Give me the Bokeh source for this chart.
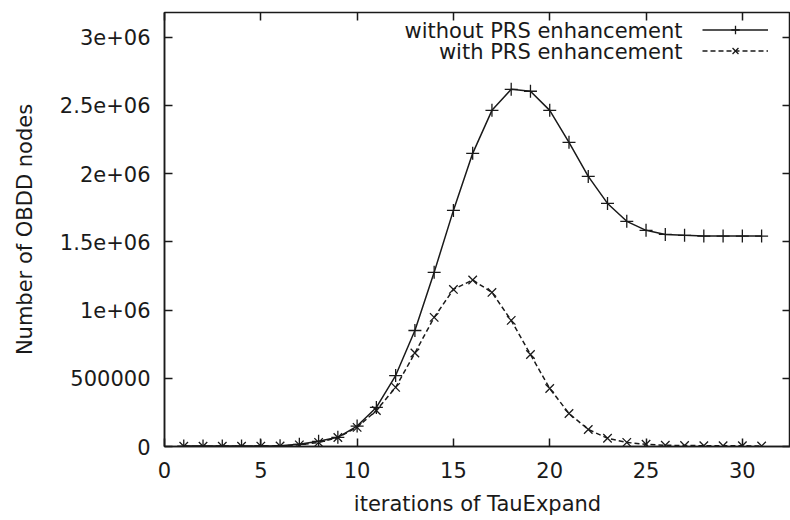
from bokeh.plotting import figure
from bokeh.models import (LinearAxis, FixedTicker, Range1d, Legend, LegendItem, Label,
                          CustomLabelingPolicy)
from bokeh.core.properties import value
from bokeh.embed import file_html
from bokeh.resources import INLINE

# ---- data ----
iterations = list(range(1, 32))
without_prs = [3000, 3000, 3000, 3000, 4000, 6000, 16000, 38000, 67000, 150000,
               286000, 520000, 850000, 1276000, 1730000, 2148000, 2463000, 2617000,
               2603000, 2463000, 2229000, 1979000, 1781000, 1650000, 1584000,
               1554000, 1547000, 1542000, 1542000, 1542000, 1542000]
with_prs = [2000, 2000, 2000, 2000, 3000, 4000, 12000, 30000, 66000, 140000,
            264000, 433000, 685000, 946000, 1151000, 1220000, 1129000, 924000,
            674000, 425000, 242000, 125000, 60000, 30000, 16000, 9000, 7000,
            6000, 5000, 5000, 4000]
series_names = ["without PRS enhancement", "with PRS enhancement"]
x_ticks = [0, 5, 10, 15, 20, 25, 30]
y_ticks = [0, 500000, 1000000, 1500000, 2000000, 2500000, 3000000]
y_tick_labels = ["0", "500000", "1e+06", "1.5e+06", "2e+06", "2.5e+06", "3e+06"]
x_label = "iterations of TauExpand"
y_label = "Number of OBDD nodes"

FONT = "DejaVu Sans"
FS = "21px"
INK = "#1a1a1a"

p = figure(width=790, height=520, x_range=Range1d(0, 32.5), y_range=Range1d(0, 3.18e6),
           output_backend="svg", toolbar_location=None,
           min_border_left=164, min_border_right=0, min_border_top=12, min_border_bottom=74)
p.xgrid.visible = False
p.ygrid.visible = False
p.background_fill_color = "white"
p.border_fill_color = "white"
p.outline_line_color = INK
p.outline_line_width = 1.5

hide_all = CustomLabelingPolicy(code="""
for (let i = 0; i < indices.size; i++) { indices.unset(i) }
return indices
""")

def style_axis(ax, show_labels=True):
    ax.major_tick_in = 8
    ax.major_tick_out = 0
    ax.minor_tick_in = 0
    ax.minor_tick_out = 0
    ax.major_tick_line_color = INK
    ax.major_tick_line_width = 1.5
    ax.axis_line_color = INK
    ax.axis_line_width = 1.5
    if show_labels:
        ax.major_label_text_font = FONT
        ax.major_label_text_font_size = FS
        ax.major_label_text_color = INK
        ax.axis_label_text_font = FONT
        ax.axis_label_text_font_size = FS
        ax.axis_label_text_font_style = "normal"
        ax.axis_label_text_color = INK
    else:
        ax.major_label_policy = hide_all
        ax.major_label_text_font_size = "0px"
        ax.major_label_standoff = 0
        ax.axis_line_color = None

xa = p.xaxis[0]
xa.ticker = FixedTicker(ticks=x_ticks)
style_axis(xa)
xa.major_label_standoff = 15
xa.axis_label = x_label
xa.axis_label_standoff = 11

ya = p.yaxis[0]
ya.ticker = FixedTicker(ticks=y_ticks)
ya.major_label_overrides = {t: s for t, s in zip(y_ticks, y_tick_labels)}
style_axis(ya)
ya.major_label_standoff = 14
ya.axis_label = y_label
ya.axis_label_standoff = 20

top = LinearAxis(ticker=FixedTicker(ticks=x_ticks))
style_axis(top, show_labels=False)
p.add_layout(top, "above")
right = LinearAxis(ticker=FixedTicker(ticks=y_ticks))
style_axis(right, show_labels=False)
p.add_layout(right, "right")

l1 = p.line(iterations, without_prs, line_color=INK, line_width=1.5)
m1 = p.scatter(iterations, without_prs, marker="cross", size=13, line_color=INK, line_width=1.3)
l2 = p.line(iterations, with_prs, line_color=INK, line_width=1.5, line_dash="5 3")
m2 = p.scatter(iterations, with_prs, marker="x", size=12, line_color=INK, line_width=1.3)

legend = Legend(items=[LegendItem(label=value(""), renderers=[l1, m1]),
                       LegendItem(label=value(""), renderers=[l2, m2])],
                location=(538, 385), orientation="vertical",
                glyph_width=66, glyph_height=21, label_width=0, label_height=21,
                label_standoff=0, padding=0, spacing=0, margin=0,
                label_text_font_size="8px",
                border_line_color=None, background_fill_alpha=0)
p.add_layout(legend, "center")

for name, ypos in zip(series_names, [416, 395]):
    p.add_layout(Label(x=518, y=ypos, x_units="screen", y_units="screen", text=name,
                       text_align="right", text_baseline="middle", text_font=FONT,
                       text_font_size=FS, text_color=INK))

open("out.html", "w").write(file_html(p, INLINE))
